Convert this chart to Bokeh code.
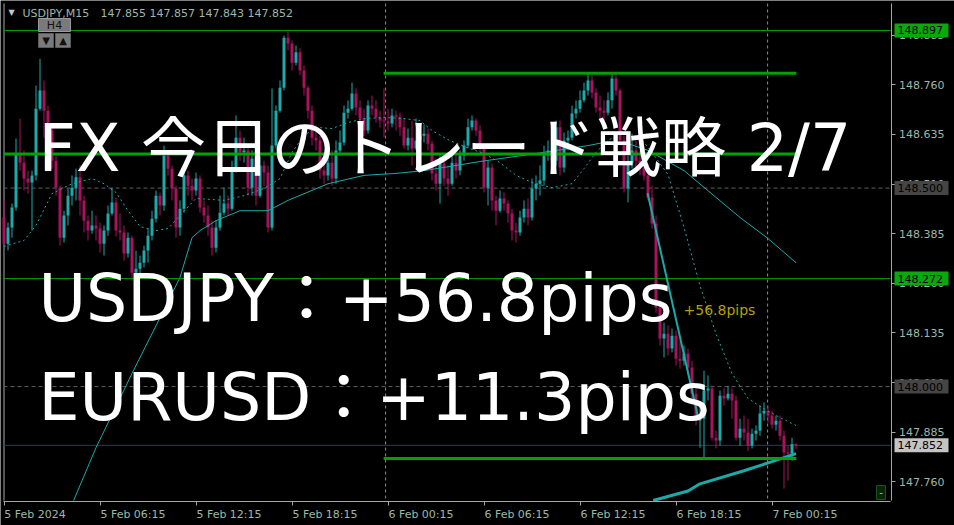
from bokeh.plotting import figure
from bokeh.models import (Range1d, LinearAxis, FixedTicker, PrintfTickFormatter,
                          Label, BoxAnnotation, ColumnDataSource)
from bokeh.embed import file_html
from bokeh.resources import INLINE

SYMBOL = "USDJPY"
PERIOD = "M15"

# ---- 15-minute bars from 5 Feb 00:00 (index = bar number on the time axis) ----
first_open = 148.426
closes = [
    148.360, 148.401, 148.451, 148.587, 148.564, 148.524, 148.514, 148.532, 148.700, 148.746,
    148.695, 148.645, 148.569, 148.501, 148.375, 148.431, 148.481, 148.501, 148.527, 148.469,
    148.418, 148.393, 148.406, 148.398, 148.360, 148.393, 148.436, 148.464, 148.393, 148.388,
    148.335, 148.375, 148.287, 148.297, 148.312, 148.343, 148.380, 148.423, 148.481, 148.456,
    148.582, 148.549, 148.499, 148.401, 148.448, 148.532, 148.506, 148.494, 148.524, 148.451,
    148.431, 148.401, 148.350, 148.401, 148.438, 148.461, 148.448, 148.544, 148.627, 148.590,
    148.595, 148.501, 148.574, 148.481, 148.557, 148.539, 148.401, 148.607, 148.695, 148.753,
    148.879, 148.864, 148.816, 148.842, 148.796, 148.753, 148.695, 148.627, 148.620, 148.544,
    148.532, 148.564, 148.524, 148.595, 148.615, 148.690, 148.700, 148.738, 148.703, 148.675,
    148.645, 148.708, 148.700, 148.678, 148.670, 148.668, 148.663, 148.683, 148.680, 148.653,
    148.607, 148.627, 148.600, 148.620, 148.632, 148.637, 148.612, 148.537, 148.511, 148.562,
    148.524, 148.511, 148.564, 148.544, 148.582, 148.607, 148.653, 148.670, 148.645, 148.600,
    148.501, 148.552, 148.469, 148.443, 148.474, 148.461, 148.436, 148.393, 148.388, 148.426,
    148.448, 148.426, 148.499, 148.511, 148.519, 148.582, 148.595, 148.569, 148.653, 148.552,
    148.620, 148.627, 148.688, 148.700, 148.721, 148.746, 148.771, 148.741, 148.703, 148.695,
    148.690, 148.721, 148.776, 148.746, 148.620, 148.499, 148.562, 148.595, 148.569, 148.552,
    148.532, 148.476, 148.411, 148.199, 148.121, 148.133, 148.096, 148.128, 148.070, 148.065,
    148.083, 148.048, 147.982, 147.914, 147.919, 147.990, 147.995, 147.871, 147.864, 147.977,
    147.970, 147.982, 147.965, 147.871, 147.894, 147.884, 147.851, 147.881, 147.889, 147.932,
    147.939, 147.927, 147.904, 147.914, 147.876, 147.834, 147.831, 147.855, 147.852,
]
highs = [
    148.469, 148.413, 148.461, 148.625, 148.675, 148.595, 148.544, 148.544, 148.758, 148.826,
    148.771, 148.708, 148.658, 148.582, 148.506, 148.443, 148.499, 148.532, 148.549, 148.557,
    148.481, 148.431, 148.443, 148.431, 148.413, 148.406, 148.456, 148.501, 148.476, 148.436,
    148.406, 148.388, 148.380, 148.342, 148.330, 148.355, 148.398, 148.443, 148.494, 148.489,
    148.607, 148.595, 148.557, 148.506, 148.469, 148.557, 148.544, 148.524, 148.539, 148.532,
    148.469, 148.456, 148.418, 148.418, 148.481, 148.501, 148.481, 148.569, 148.683, 148.645,
    148.627, 148.607, 148.595, 148.595, 148.582, 148.569, 148.557, 148.751, 148.708, 148.771,
    148.884, 148.894, 148.872, 148.859, 148.852, 148.809, 148.758, 148.708, 148.658, 148.632,
    148.587, 148.582, 148.595, 148.620, 148.645, 148.708, 148.721, 148.766, 148.751, 148.721,
    148.700, 148.721, 148.733, 148.721, 148.695, 148.751, 148.700, 148.700, 148.695, 148.690,
    148.675, 148.650, 148.670, 148.675, 148.658, 148.660, 148.650, 148.620, 148.574, 148.582,
    148.574, 148.557, 148.582, 148.582, 148.595, 148.620, 148.675, 148.683, 148.675, 148.658,
    148.607, 148.569, 148.562, 148.481, 148.494, 148.489, 148.469, 148.448, 148.413, 148.443,
    148.469, 148.474, 148.524, 148.532, 148.557, 148.607, 148.620, 148.607, 148.670, 148.670,
    148.640, 148.645, 148.708, 148.721, 148.746, 148.766, 148.789, 148.784, 148.751, 148.733,
    148.721, 148.741, 148.791, 148.789, 148.751, 148.632, 148.582, 148.637, 148.620, 148.595,
    148.569, 148.562, 148.506, 148.431, 148.217, 148.161, 148.154, 148.146, 148.141, 148.116,
    148.103, 148.095, 148.065, 148.002, 147.952, 148.040, 148.028, 148.002, 147.889, 147.990,
    147.997, 148.002, 147.995, 147.977, 147.919, 147.927, 147.919, 147.894, 147.902, 147.952,
    147.960, 147.952, 147.939, 147.927, 147.927, 147.889, 147.851, 147.871, 147.857,
]
lows = [
    148.355, 148.343, 148.375, 148.443, 148.544, 148.494, 148.486, 148.393, 148.519, 148.695,
    148.627, 148.620, 148.549, 148.481, 148.355, 148.363, 148.406, 148.456, 148.469, 148.431,
    148.388, 148.368, 148.385, 148.368, 148.338, 148.330, 148.380, 148.431, 148.378, 148.368,
    148.317, 148.325, 148.267, 148.254, 148.280, 148.300, 148.312, 148.368, 148.413, 148.431,
    148.443, 148.532, 148.469, 148.375, 148.380, 148.438, 148.481, 148.469, 148.481, 148.438,
    148.413, 148.380, 148.330, 148.338, 148.393, 148.431, 148.431, 148.443, 148.539, 148.569,
    148.564, 148.481, 148.481, 148.456, 148.476, 148.506, 148.388, 148.393, 148.600, 148.690,
    148.746, 148.847, 148.796, 148.809, 148.784, 148.733, 148.675, 148.607, 148.595, 148.524,
    148.511, 148.519, 148.506, 148.511, 148.582, 148.607, 148.675, 148.695, 148.683, 148.658,
    148.632, 148.637, 148.683, 148.665, 148.653, 148.627, 148.645, 148.653, 148.645, 148.632,
    148.600, 148.595, 148.557, 148.595, 148.607, 148.615, 148.595, 148.519, 148.494, 148.461,
    148.506, 148.481, 148.506, 148.524, 148.532, 148.569, 148.600, 148.645, 148.632, 148.590,
    148.489, 148.456, 148.443, 148.406, 148.438, 148.443, 148.413, 148.368, 148.363, 148.380,
    148.413, 148.406, 148.418, 148.469, 148.481, 148.506, 148.569, 148.544, 148.557, 148.532,
    148.539, 148.595, 148.620, 148.675, 148.690, 148.716, 148.733, 148.726, 148.690, 148.675,
    148.665, 148.683, 148.700, 148.733, 148.607, 148.489, 148.464, 148.549, 148.544, 148.532,
    148.519, 148.469, 148.398, 148.186, 148.103, 148.073, 148.078, 148.086, 148.053, 148.045,
    148.053, 148.028, 147.970, 147.902, 147.846, 147.821, 147.965, 147.864, 147.844, 147.851,
    147.952, 147.965, 147.919, 147.864, 147.851, 147.864, 147.838, 147.844, 147.864, 147.876,
    147.914, 147.909, 147.894, 147.889, 147.864, 147.743, 147.763, 147.813, 147.843,
]

# ---- moving averages, sampled along the bar axis (from where they enter the chart) ----
fast_ma_bar = [0, 5, 8, 12, 17, 22, 25, 28, 31, 34, 38, 41, 44, 48, 55, 60, 65, 69, 72, 75,
               78, 82, 86, 90, 95, 100, 104, 107, 111, 115, 120, 124, 128, 132, 137, 142, 145,
               148, 151, 154, 157, 160, 162, 166, 170, 174, 178, 182, 186, 190, 194, 198]
fast_ma = [148.353, 148.368, 148.406, 148.486, 148.511, 148.524, 148.511, 148.489, 148.443,
           148.403, 148.393, 148.398, 148.431, 148.474, 148.469, 148.481, 148.499, 148.524,
           148.590, 148.632, 148.653, 148.650, 148.665, 148.675, 148.678, 148.675, 148.670,
           148.645, 148.622, 148.605, 148.587, 148.564, 148.532, 148.514, 148.501, 148.511,
           148.549, 148.590, 148.620, 148.637, 148.632, 148.615, 148.590, 148.534, 148.401,
           148.254, 148.133, 148.033, 147.970, 147.944, 147.922, 147.902]
mid_ma_bar = [17.4, 23, 32, 37, 44, 47, 49, 53, 59, 66, 71, 81, 90, 98, 105, 113, 119, 133,
              146, 151, 156, 161, 170, 184, 191, 198]
mid_ma = [147.713, 147.846, 148.033, 148.133, 148.275, 148.375, 148.393, 148.418, 148.443,
          148.443, 148.469, 148.511, 148.532, 148.537, 148.544, 148.557, 148.567, 148.587,
          148.607, 148.617, 148.612, 148.595, 148.544, 148.426, 148.373, 148.312]
slow_ma_bar = [162.3, 171, 174, 185, 192, 198]
slow_ma = [147.713, 147.737, 147.755, 147.788, 147.811, 147.831]

# ---- horizontal objects ----
line_levels = [148.897, 148.272]
round_levels = [148.500, 148.000]
zone_levels = [148.789, 148.586, 147.819]
zone_start = [94.9, -0.125, 94.9]
zone_end = [198.1, 198.1, 198.1]
day_separators = [95.4, 190.9]

# ---- trade (short) ----
trade_bars = [160.9, 173.6]
trade_prices = [148.487, 147.919]
usdjpy_pips = round((trade_prices[0] - trade_prices[1]) * 100, 1)
eurusd_pips = 11.3

# ---- axes ----
time_ticks = [0, 24, 48, 72, 96, 120, 144, 168, 192]
time_labels = ["5 Feb 2024", "5 Feb 06:15", "5 Feb 12:15", "5 Feb 18:15", "6 Feb 00:15",
               "6 Feb 06:15", "6 Feb 12:15", "6 Feb 18:15", "7 Feb 00:15"]
price_ticks = [147.760, 147.885, 148.010, 148.135, 148.260, 148.385, 148.510, 148.635,
               148.760, 148.885]

# ---- layout: chart box in pixels and the matching data scales ----
W, H = 954, 525
BOX_L, BOX_T, BOX_R, BOX_B = 3, 3, 890, 500
X_START, BAR_PX = -0.125, 4.0
Y_TOP, Y_BOT = 148.965, 147.713
PRICE_PER_PX = (Y_TOP - Y_BOT) / (BOX_B - BOX_T)


def sx(px):
    return X_START + (px - BOX_L) / BAR_PX


def sy(py):
    return Y_TOP - (py - BOX_T) * PRICE_PER_PX


BULL = "#1fa9a9"
BEAR = "#a8125e"
MA_COL = "#1aaaa8"
GREEN = "#05a005"
FG = "#9db7aa"
AXIS_COL = "#a6a6a6"
FONT = "DejaVu Sans"

p = figure(width=W, height=H,
           x_range=Range1d(sx(0), sx(W)), y_range=Range1d(sy(H), sy(0)),
           output_backend="svg", toolbar_location=None,
           x_axis_location=None, y_axis_location=None,
           background_fill_color="#000000", border_fill_color="#000000",
           outline_line_color=None,
           min_border_left=0, min_border_top=0, min_border_right=0, min_border_bottom=0)
p.grid.visible = False

# price scale on the right edge of the chart box
yaxis = LinearAxis(ticker=FixedTicker(ticks=price_ticks),
                   formatter=PrintfTickFormatter(format="%.3f"),
                   fixed_location=sx(BOX_R + 0.5), bounds=(sy(BOX_B), sy(BOX_T)),
                   major_label_standoff=4)
# time scale: tick marks at the bars, labels set to the right of each tick
xaxis = LinearAxis(ticker=FixedTicker(ticks=time_ticks),
                   fixed_location=sy(BOX_B + 0.5), bounds=(sx(BOX_L), sx(BOX_R)),
                   major_label_text_color=None)
label_half_px = [31] + [33] * (len(time_ticks) - 1)
label_pos = [t + h / BAR_PX for t, h in zip(time_ticks, label_half_px)]
xlabels = LinearAxis(ticker=FixedTicker(ticks=label_pos),
                     fixed_location=sy(BOX_B + 0.5),
                     major_label_overrides={t: s for t, s in zip(label_pos, time_labels)},
                     axis_line_color=None, major_tick_line_color=None,
                     major_tick_out=0, major_label_standoff=7)
for ax in (yaxis, xaxis, xlabels):
    ax.minor_tick_line_color = None
    ax.major_tick_in = 0
    ax.major_label_text_font = FONT
    ax.major_label_text_font_size = "11px"
for ax in (yaxis, xaxis):
    ax.axis_line_color = AXIS_COL
    ax.major_tick_line_color = AXIS_COL
    ax.major_tick_out = 4
yaxis.major_label_text_color = FG
xlabels.major_label_text_color = FG
p.add_layout(yaxis, "right")
p.add_layout(xaxis, "below")
p.add_layout(xlabels, "below")

# left border, period separators, round levels, bid line
p.segment(x0=[sx(BOX_L + 0.5)], x1=[sx(BOX_L + 0.5)], y0=[sy(BOX_T)], y1=[sy(BOX_B)],
          line_color=AXIS_COL, line_width=1)
p.segment(x0=day_separators, x1=day_separators,
          y0=[sy(BOX_T)] * len(day_separators), y1=[sy(BOX_B)] * len(day_separators),
          line_color="#8a8a8a", line_dash="3 3", line_width=1)
p.segment(x0=[sx(BOX_L)] * 2, x1=[sx(BOX_R)] * 2, y0=round_levels, y1=round_levels,
          line_color="#5e5e5e", line_dash="4 3", line_width=1)
p.segment(x0=[sx(BOX_L)], x1=[sx(BOX_R)], y0=[closes[-1]], y1=[closes[-1]],
          line_color="#2b3d52", line_width=1)

# candles
opens = [first_open] + closes[:-1]
src = ColumnDataSource(dict(
    x=list(range(len(closes))),
    high=highs, low=lows,
    top=[max(o, c) for o, c in zip(opens, closes)],
    bottom=[min(o, c) for o, c in zip(opens, closes)],
    color=[BULL if c >= o else BEAR for o, c in zip(opens, closes)],
))
p.segment(x0="x", y0="low", x1="x", y1="high", line_color="color", line_width=1, source=src)
p.vbar(x="x", width=0.75, top="top", bottom="bottom", fill_color="color",
       line_color=None, source=src)

# moving averages
p.line(fast_ma_bar, fast_ma, line_color=MA_COL, line_width=1, line_dash="2 3")
p.line(mid_ma_bar, mid_ma, line_color=MA_COL, line_width=1)
p.line(slow_ma_bar, slow_ma, line_color=MA_COL, line_width=3)

# horizontal lines and zone lines
p.segment(x0=[sx(BOX_L)] * 2, x1=[sx(BOX_R)] * 2, y0=line_levels, y1=line_levels,
          line_color=GREEN, line_width=1)
p.segment(x0=zone_start, x1=zone_end, y0=zone_levels, y1=zone_levels,
          line_color=GREEN, line_width=3)

# trade line and its result
p.line(trade_bars, trade_prices, line_color=MA_COL, line_width=2)
p.add_layout(Label(x=sx(683), y=sy(309), text=f"+{usdjpy_pips}pips",
                   text_color="#b4a000", text_font=FONT, text_font_size="14px",
                   text_baseline="middle", text_align="left"))

# period buttons and the small corner box
p.quad(left=[sx(38)], right=[sx(70)], top=[sy(18)], bottom=[sy(31)],
       fill_color="#7a7a7a", line_color="#9a9a9a")
p.quad(left=[sx(38), sx(55)], right=[sx(53), sx(70)], top=[sy(33), sy(33)],
       bottom=[sy(47), sy(47)], fill_color="#7a7a7a", line_color="#5a5a5a")
p.quad(left=[sx(876)], right=[sx(885)], top=[sy(485)], bottom=[sy(499)],
       fill_color="#062806", line_color="#1f4f1f")
for txt, px_, py_, size in [("H4", 54, 24.5, "11px"), ("▼", 45.5, 40, "10px"),
                            ("▲", 62.5, 40, "10px")]:
    p.add_layout(Label(x=sx(px_), y=sy(py_), text=txt, text_color="#111111",
                       text_font=FONT, text_font_size=size,
                       text_align="center", text_baseline="middle"))
p.add_layout(Label(x=sx(880.5), y=sy(491), text="-", text_color="#bbbbbb",
                   text_font=FONT, text_font_size="10px",
                   text_align="center", text_baseline="middle"))

# chart header
p.add_layout(Label(x=sx(11), y=sy(12), text="▼", text_color="#c8c8c8",
                   text_font=FONT, text_font_size="8px",
                   text_align="center", text_baseline="middle"))
p.add_layout(Label(x=sx(22), y=sy(13), text=f"{SYMBOL},{PERIOD}", text_color=FG,
                   text_font=FONT, text_font_size="11px", text_baseline="middle"))
ohlc = f"{opens[-1]:.3f} {highs[-1]:.3f} {lows[-1]:.3f} {closes[-1]:.3f}"
p.add_layout(Label(x=sx(100), y=sy(13), text=ohlc, text_color=FG,
                   text_font=FONT, text_font_size="11px", text_baseline="middle"))

# price tags on the right scale (box drawn over the scale, then the value)
tags = [(line_levels[0], "#0aa80a"), (round_levels[0], "#454545"),
        (line_levels[1], "#0aa80a"), (round_levels[1], "#454545"),
        (closes[-1], "#c4c4c4")]
for lv, bg in tags:
    p.add_layout(BoxAnnotation(left=sx(894), right=sx(948),
                               top=lv + 7 * PRICE_PER_PX, bottom=lv - 7 * PRICE_PER_PX,
                               fill_color=bg, fill_alpha=1.0, line_color=None))
for lv, bg in tags:
    p.add_layout(Label(x=sx(897), y=lv, text=f"{lv:.3f}", text_color="#000000",
                       text_font=FONT, text_font_size="11px",
                       text_baseline="middle", text_align="left"))

# headline text
headline = [("FX 今日のトレード戦略 2/7", 148),
            (f"USDJPY：+{usdjpy_pips}pips", 298),
            (f"EURUSD：+{eurusd_pips}pips", 397)]
for txt, base in headline:
    p.add_layout(Label(x=sx(38), y=sy(base), text=txt, text_color="#ffffff",
                       text_font="DejaVu Sans, Noto Sans CJK JP", text_font_size="65px",
                       text_baseline="alphabetic", text_align="left"))

open("out.html", "w").write(file_html(p, INLINE))
